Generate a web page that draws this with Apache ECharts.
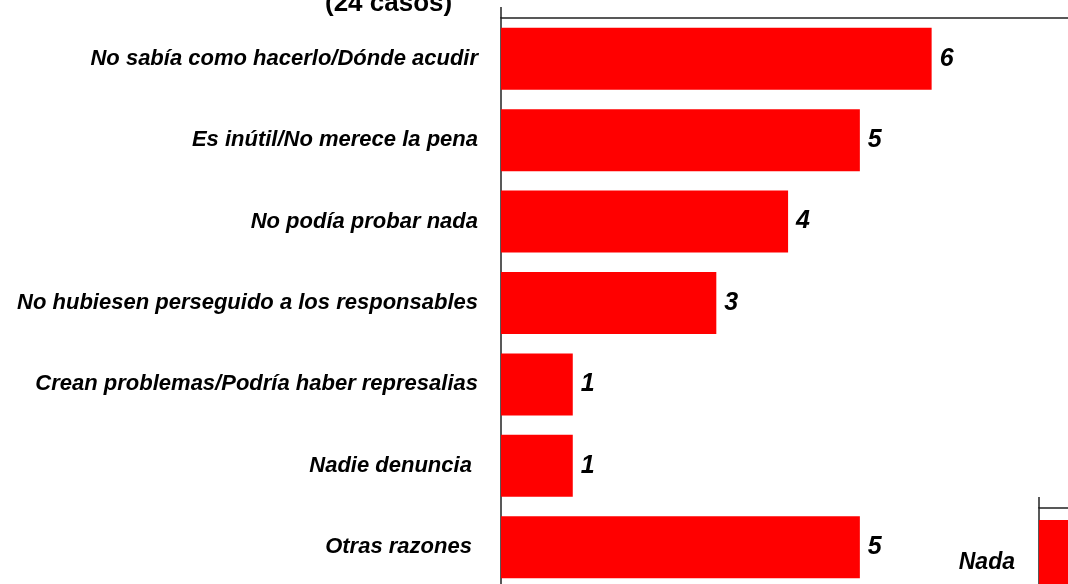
<!DOCTYPE html>
<html>
<head>
<meta charset="utf-8">
<script src="https://cdn.jsdelivr.net/npm/echarts@6/dist/echarts.min.js"></script>
<style>
html,body{margin:0;padding:0;background:#ffffff;}
#chart{width:1068px;height:584px;}
</style>
</head>
<body>
<div id="chart"></div>
<script>
const categories = [
  'No sabía como hacerlo/Dónde acudir',
  'Es inútil/No merece la pena',
  'No podía probar nada',
  'No hubiesen perseguido a los responsables',
  'Crean problemas/Podría haber represalias',
  'Nadie denuncia ',
  'Otras razones '
];
const values = [6, 5, 4, 3, 1, 1, 5];
const categories2 = ['Nada'];
const values2 = [11];
const titleText = '(24 casos)';

const font = 'Liberation Sans, Arial, sans-serif';
const chart = echarts.init(document.getElementById('chart'), null, {renderer: 'canvas'});
chart.setOption({
  backgroundColor: '#ffffff',
  animation: false,
  graphic: [
    {type: 'text', left: 389 - 64, top: -9, style: {text: titleText, font: 'bold 26px ' + font, fill: '#000'}},
    {type: 'line', shape: {x1: 501, y1: 7, x2: 501, y2: 18}, style: {stroke: '#222', lineWidth: 1.5}},
    {type: 'line', shape: {x1: 1039, y1: 497, x2: 1039, y2: 508}, style: {stroke: '#222', lineWidth: 1.5}}
  ],
  grid: [
    {left: 501, right: 0, top: 18, height: 570, outerBoundsMode: 'none', containLabel: false},
    {left: 1039, right: 0, top: 508, height: 110, outerBoundsMode: 'none', containLabel: false}
  ],
  xAxis: [
    {gridIndex: 0, type: 'value', min: 0, max: 7.9, position: 'top',
     axisLine: {show: true, lineStyle: {color: '#222', width: 1.5}},
     axisTick: {show: false}, axisLabel: {show: false}, splitLine: {show: false}},
    {gridIndex: 1, type: 'value', min: 0, max: 7.9, position: 'top',
     axisLine: {show: true, lineStyle: {color: '#222', width: 1.5}},
     axisTick: {show: false}, axisLabel: {show: false}, splitLine: {show: false}}
  ],
  yAxis: [
    {gridIndex: 0, type: 'category', data: categories, inverse: true,
     axisLine: {show: true, lineStyle: {color: '#222', width: 1.5}},
     axisTick: {show: false},
     axisLabel: {margin: 23, color: '#000', fontSize: 22, fontWeight: 'bold', fontStyle: 'italic', fontFamily: font}},
    {gridIndex: 1, type: 'category', data: categories2, inverse: true,
     axisLine: {show: true, lineStyle: {color: '#222', width: 1.5}},
     axisTick: {show: false},
     axisLabel: {margin: 24, color: '#000', fontSize: 23, fontWeight: 'bold', fontStyle: 'italic', fontFamily: font}}
  ],
  series: [
    {type: 'bar', xAxisIndex: 0, yAxisIndex: 0, data: values, barWidth: 62,
     itemStyle: {color: '#ff0000'},
     label: {show: true, position: 'right', distance: 8, color: '#000', fontSize: 25, fontWeight: 'bold', fontStyle: 'italic', fontFamily: font}},
    {type: 'bar', xAxisIndex: 1, yAxisIndex: 1, data: values2, barWidth: 86,
     itemStyle: {color: '#ff0000'}, label: {show: false}}
  ]
});
</script>
</body>
</html>
